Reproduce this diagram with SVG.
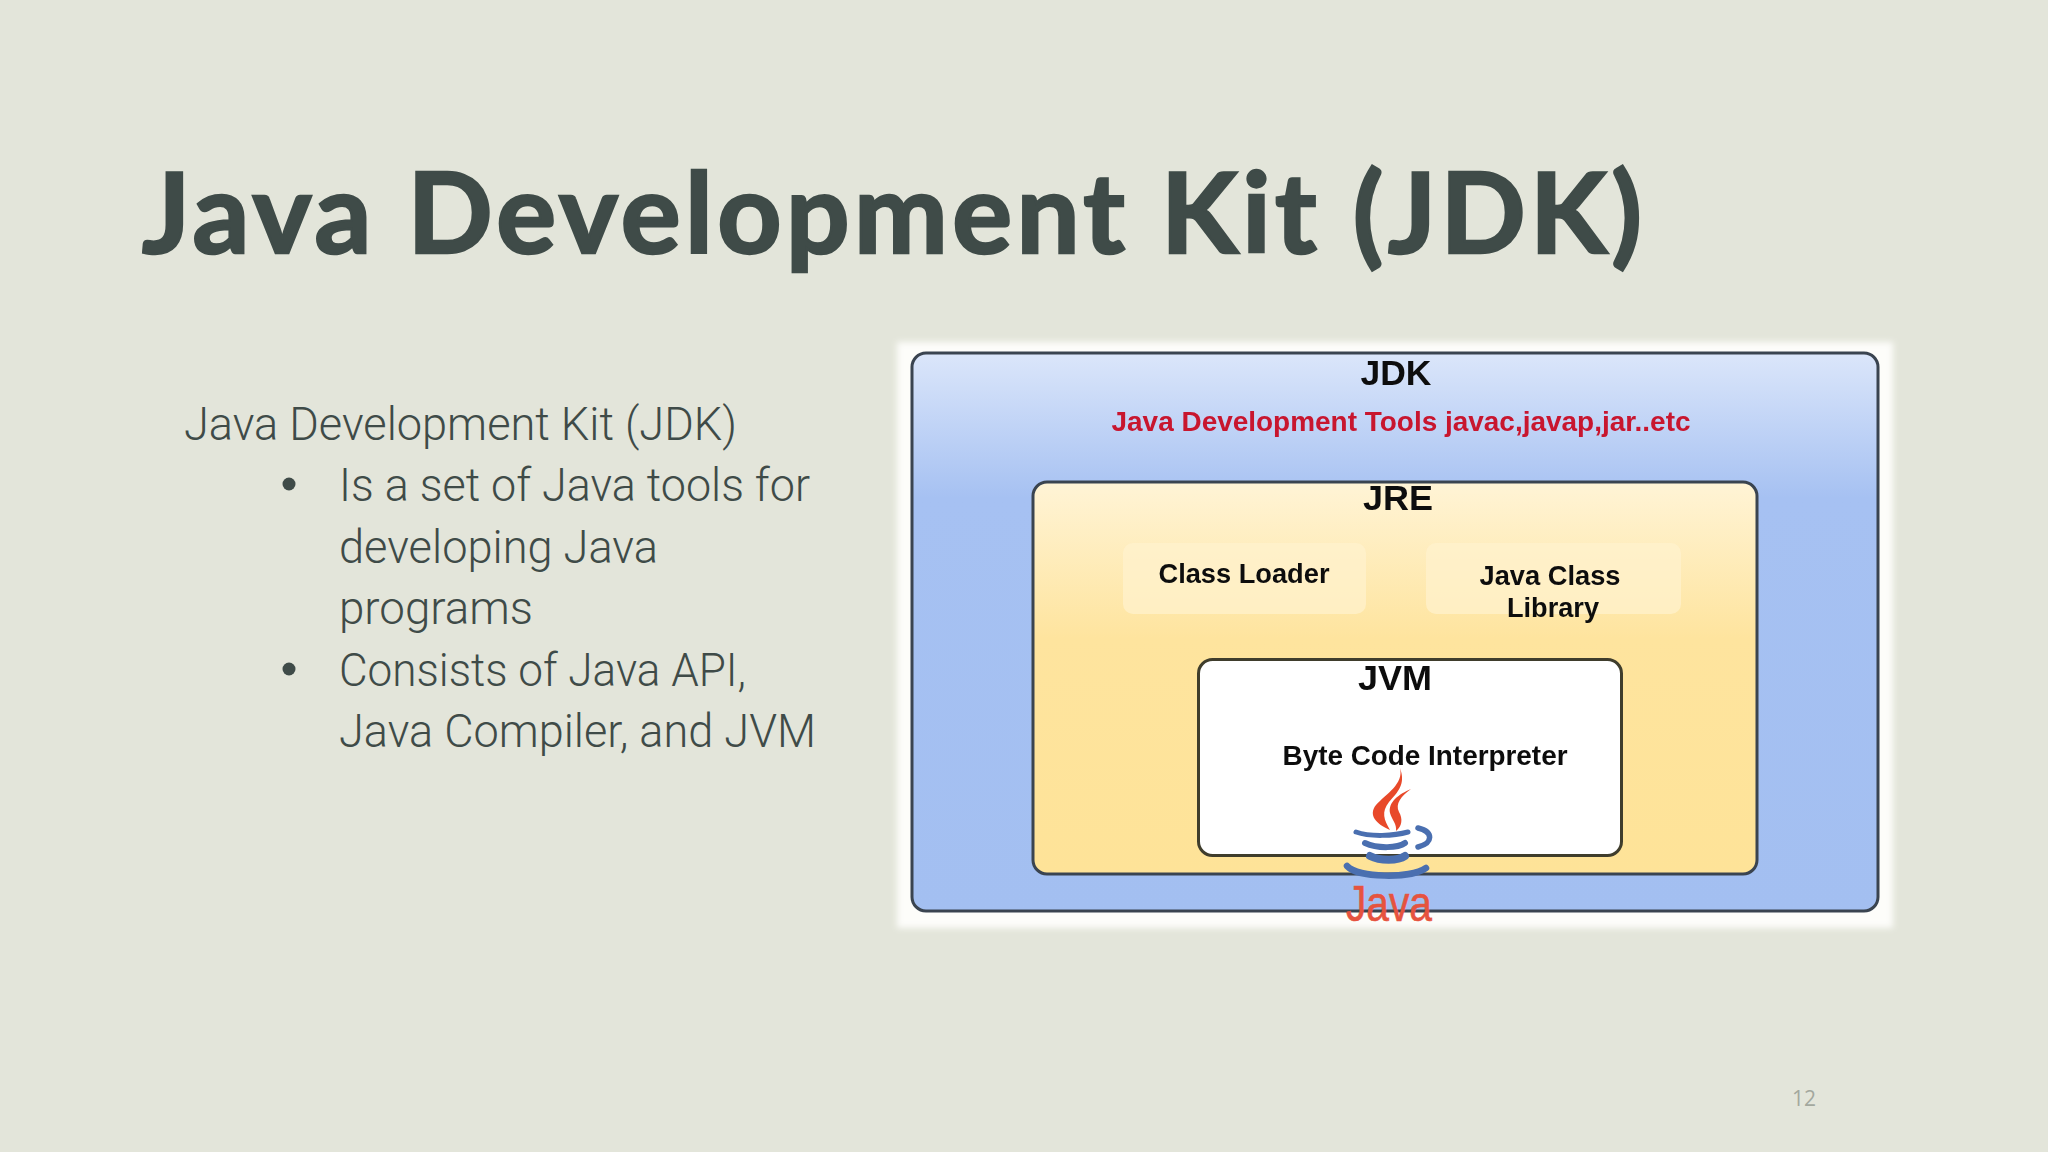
<svg xmlns="http://www.w3.org/2000/svg" width="2048" height="1152" viewBox="0 0 2048 1152">
<defs>
<linearGradient id="gj" x1="0" y1="0" x2="0" y2="1"><stop offset="0" stop-color="#dbe6fa"/><stop offset="0.26" stop-color="#a6c1f2"/><stop offset="1" stop-color="#a3bff1"/></linearGradient>
<linearGradient id="gr" x1="0" y1="0" x2="0" y2="1"><stop offset="0" stop-color="#fff4d6"/><stop offset="0.4" stop-color="#fee49e"/><stop offset="1" stop-color="#fee398"/></linearGradient>
<filter id="soft" x="-5%" y="-5%" width="110%" height="110%"><feGaussianBlur stdDeviation="3"/></filter>
<filter id="tb" x="-5%" y="-20%" width="110%" height="140%"><feGaussianBlur stdDeviation="0.6"/></filter>
</defs>
<style>
.title{font-family:Lato,"Noto Sans",sans-serif;font-weight:700;font-size:112px;fill:#3f4b48;stroke:#3f4b48;stroke-width:2.5}
.body{font-family:Roboto,"Open Sans",sans-serif;font-weight:300;font-size:46px;fill:#3f4b48}
.in{font-family:"Liberation Sans",Arial,sans-serif;font-weight:700;fill:#111;text-anchor:middle}
.box{stroke:#3a4450;stroke-width:3}
</style>
<rect width="2048" height="1152" fill="#e3e5da"/>
<text class="title" x="142" y="253" textLength="1500" lengthAdjust="spacing">Java Development Kit (JDK)</text>
<g id="body">
<text class="body" x="184" y="440" textLength="553" lengthAdjust="spacingAndGlyphs">Java Development Kit (JDK)</text>
<circle cx="289" cy="484" r="6.5" fill="#3f4b48"/>
<text class="body" x="339" y="501" textLength="471" lengthAdjust="spacingAndGlyphs">Is a set of Java tools for</text>
<text class="body" x="339" y="563" textLength="319" lengthAdjust="spacingAndGlyphs">developing Java</text>
<text class="body" x="339" y="624" textLength="194" lengthAdjust="spacingAndGlyphs">programs</text>
<circle cx="289" cy="669" r="6.5" fill="#3f4b48"/>
<text class="body" x="339" y="686" textLength="407" lengthAdjust="spacingAndGlyphs">Consists of Java API,</text>
<text class="body" x="339" y="747" textLength="477" lengthAdjust="spacingAndGlyphs">Java Compiler, and JVM</text>
</g>
<rect x="897" y="342" width="996" height="586" fill="#fdfdfa" filter="url(#soft)"/>
<g id="jdk">
<rect class="box" x="912" y="353" width="966" height="558" rx="14" fill="url(#gj)"/>
<text class="in" x="1396" y="385" font-size="35" filter="url(#tb)" textLength="71" lengthAdjust="spacingAndGlyphs">JDK</text>
<text class="in" x="1401" y="431" font-size="27" style="fill:#c8142f" filter="url(#tb)" textLength="579" lengthAdjust="spacingAndGlyphs">Java Development Tools javac,javap,jar..etc</text>
</g>
<g id="jre">
<rect class="box" x="1033" y="482" width="724" height="392" rx="14" fill="url(#gr)"/>
<text class="in" x="1398" y="510" font-size="35" filter="url(#tb)" textLength="70" lengthAdjust="spacingAndGlyphs">JRE</text>
</g>
<g id="class-loader">
<rect x="1123" y="543" width="243" height="71" rx="10" fill="#fff2cf" opacity="0.7"/>
<text class="in" x="1244" y="583" font-size="27" filter="url(#tb)" textLength="171" lengthAdjust="spacingAndGlyphs">Class Loader</text>
</g>
<g id="java-class-library">
<rect x="1426" y="543" width="255" height="71" rx="10" fill="#fff2cf" opacity="0.7"/>
<text class="in" x="1550" y="585" font-size="27" filter="url(#tb)" textLength="141" lengthAdjust="spacingAndGlyphs">Java Class</text>
<text class="in" x="1553" y="617" font-size="27" filter="url(#tb)" textLength="92" lengthAdjust="spacingAndGlyphs">Library</text>
</g>
<g id="jvm">
<rect x="1198.5" y="659.5" width="423" height="196" rx="14" fill="#fff" stroke="#3f3d2c" stroke-width="3"/>
<text class="in" x="1395" y="690" font-size="35" filter="url(#tb)" textLength="74" lengthAdjust="spacingAndGlyphs">JVM</text>
<text class="in" x="1425" y="765" font-size="27" filter="url(#tb)" textLength="285" lengthAdjust="spacingAndGlyphs">Byte Code Interpreter</text>
</g>
<g id="java-logo">
<path d="M1400 768C1404 784 1386 794 1376 805C1368 815 1376 824 1390 830C1384 820 1381 812 1389 802C1398 792 1406 784 1400 768Z" fill="#e8492a"/>
<path d="M1411 789C1399 794 1388 802 1390 813C1392 820 1397 824 1396 831C1402 826 1403 819 1399 812C1395 804 1401 796 1411 789Z" fill="#e8492a"/>
<g fill="none" stroke="#4a6fb0" stroke-linecap="round">
<path d="M1356 832C1370 837 1394 836 1408 832" stroke-width="5"/>
<path d="M1365 843C1378 849 1398 848 1405 843" stroke-width="6"/>
<path d="M1370 856C1380 861 1398 861 1405 856" stroke-width="8"/>
<path d="M1347 866C1358 878 1410 879 1426 868" stroke-width="6.5"/>
<path d="M1418 828C1434 832 1433 843 1418 847" stroke-width="5.5"/>
</g>
<text x="1389" y="921" font-family="'Liberation Sans',Arial,sans-serif" font-size="50" fill="#e6533f" text-anchor="middle" textLength="86" lengthAdjust="spacingAndGlyphs" stroke="#e6533f" stroke-width="0.6">Java</text>
</g>
<text x="1804" y="1106" font-family="'Open Sans','Noto Sans',sans-serif" font-size="21" fill="#a3a89e" text-anchor="middle">12</text>
</svg>
